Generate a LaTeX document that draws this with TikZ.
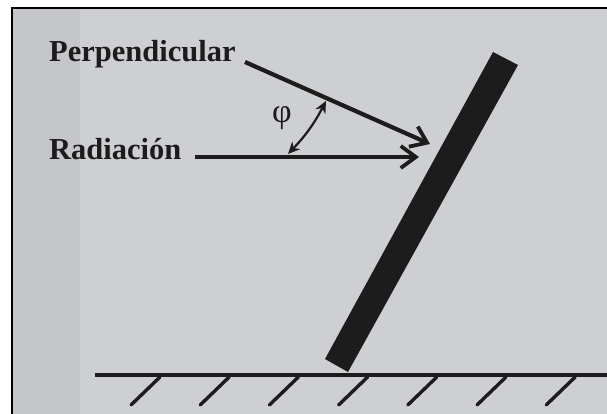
\documentclass[tikz,border=0pt]{standalone}
\usepackage{fontspec}
\setmainfont{Liberation Serif}
\usetikzlibrary{arrows.meta}
\definecolor{bgg}{HTML}{CECFD2}
\definecolor{strip}{HTML}{C5C6C9}
\definecolor{ink}{HTML}{1C1C1C}
\tikzset{
  lbl/.style={font=\fontsize{30.5}{30}\selectfont\bfseries, text=ink, inner sep=0pt, anchor=base west},
  ray/.style={draw=ink, line width=4.2pt, -{Straight Barb[length=15pt,width=22pt,line width=3.8pt]}},
  angarrow/.style={draw=ink, line width=2.2pt, {Stealth[length=12pt,width=11pt]}-{Stealth[length=12pt,width=11pt]}},
  ground/.style={draw=ink, line width=3.8pt},
  hatch/.style={draw=ink, line width=3.4pt, line cap=round}
}
\begin{document}
\begin{tikzpicture}[x=1pt,y=-1pt]
\useasboundingbox (0,0) rectangle (607,414);
\fill[white] (0,0) rectangle (607,414);
\fill[bgg] (12,8) rectangle (607,414);
\fill[strip] (12,8) rectangle (80,414);
\draw[black, line width=2.4pt] (12,414) -- (12,8) -- (607,8);
% labels
\node[lbl] (perp) at (49,62) {Perpendicular};
\node[lbl] (rad) at (49,160) {Radiación};
% bar
\fill[ink] (493,52) -- (518,65) -- (348,372) -- (325,359) -- cycle;
% rays
\coordinate (pA) at (245,62);
\coordinate (pB) at (430,144);
\coordinate (rA) at (195,157);
\coordinate (rB) at (419,157);
\draw[ray] (pA) -- (pB);
\draw[ray] (rA) -- (rB);
% angle
\coordinate (a1) at (288,154);
\coordinate (a2) at (326,101);
\draw[angarrow] (a1) to[bend right=8] (a2);
\node[font=\fontsize{34}{34}\selectfont, text=ink, inner sep=0pt] (phi) at (282,118) {φ};
% ground
\coordinate (g1) at (95,375);
\coordinate (g2) at (607,375);
\draw[ground] (g1) -- (g2);
\foreach \i in {0,...,6} {
  \draw[hatch] ({160+69.2*\i},377) -- ({131+69.2*\i},405);
}
\end{tikzpicture}
\end{document}
